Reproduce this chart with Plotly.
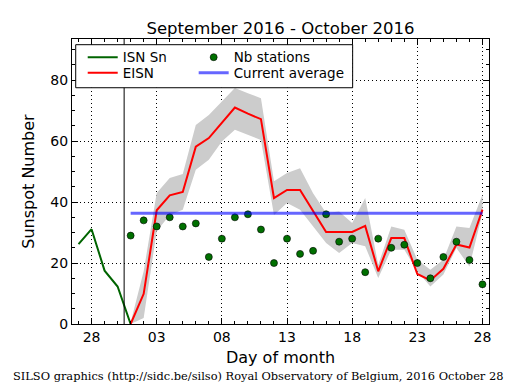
import plotly.graph_objects as go

# ---------------- data ----------------
isn_dates = ["2016-09-27", "2016-09-28", "2016-09-29", "2016-09-30", "2016-10-01"]
isn_values = [26.2, 31.1, 17.5, 12.3, 0.0]

oct_dates = [
    "2016-10-01", "2016-10-02", "2016-10-03", "2016-10-04", "2016-10-05", "2016-10-06", "2016-10-07",
    "2016-10-08", "2016-10-09", "2016-10-10", "2016-10-11", "2016-10-12", "2016-10-13", "2016-10-14",
    "2016-10-15", "2016-10-16", "2016-10-17", "2016-10-18", "2016-10-19", "2016-10-20", "2016-10-21",
    "2016-10-22", "2016-10-23", "2016-10-24", "2016-10-25", "2016-10-26", "2016-10-27", "2016-10-28",
]
eisn_values = [0.0, 9.9, 37.3, 42.2, 43.3, 58.2, 61.0, 65.9, 71.0, 69.0, 67.2, 41.3, 44.0, 44.0,
               37.1, 30.2, 30.2, 30.2, 32.2, 17.3, 28.2, 28.2, 16.4, 14.3, 18.1, 26.1, 25.1, 37.5]
eisn_upper = [0.5, 17.3, 43.0, 47.9, 49.2, 65.3, 68.6, 73.0, 77.4, 75.7, 74.1, 46.8, 49.5, 51.1,
              42.9, 36.4, 36.9, 33.1, 41.3, 19.4, 32.0, 30.9, 21.1, 17.8, 21.1, 32.0, 31.5, 42.4]
eisn_lower = [0.0, 2.0, 30.4, 35.8, 37.5, 50.6, 53.9, 59.9, 63.7, 62.1, 60.4, 35.8, 39.7, 37.5,
              32.0, 26.6, 23.3, 26.6, 25.5, 15.1, 24.4, 24.4, 17.3, 12.3, 16.2, 24.9, 18.9, 36.4]
nb_stations = [29, 34, 32, 35, 32, 33, 22, 28, 35, 36, 31, 20, 28, 23,
               24, 36, 27, 28, 17, 28, 25, 26, 20, 15, 22, 27, 21, 13]
current_average = 36.3

month_boundary = "2016-09-30 12:00"
x_range = ["2016-09-26 12:00", "2016-10-28 12:00"]
y_range = [0, 93.5]
x_tick0 = "2016-09-28"
DAY_MS = 86400000

title_text = "September 2016 - October 2016"
x_label = "Day of month"
y_label = "Sunspot Number"
footer_text = "SILSO graphics (http://sidc.be/silso) Royal Observatory of Belgium, 2016 October 28"

FONT = "DejaVu Sans"
LEG_FONT = dict(family=FONT, size=13.5, color="black")

fig = go.Figure()

# error band
fig.add_trace(go.Scatter(x=oct_dates, y=eisn_lower, mode="lines", line=dict(width=0),
                         showlegend=False, hoverinfo="skip"))
fig.add_trace(go.Scatter(x=oct_dates, y=eisn_upper, mode="lines", line=dict(width=0),
                         fill="tonexty", fillcolor="rgb(204,204,204)",
                         showlegend=False, hoverinfo="skip"))

fig.add_trace(go.Scatter(x=isn_dates, y=isn_values, mode="lines", name="ISN Sn",
                         line=dict(color="#006400", width=2), legend="legend"))
fig.add_trace(go.Scatter(x=oct_dates, y=eisn_values, mode="lines", name="EISN",
                         line=dict(color="#ff0000", width=2), legend="legend2"))
fig.add_trace(go.Scatter(x=oct_dates, y=nb_stations, mode="markers", name="Nb stations",
                         marker=dict(color="#007000", size=7, line=dict(color="black", width=0.6)),
                         legend="legend3"))
fig.add_trace(go.Scatter(x=[oct_dates[0], oct_dates[-1]], y=[current_average, current_average],
                         mode="lines", name="Current average",
                         line=dict(color="rgba(0,0,255,0.6)", width=3), legend="legend4"))

fig.add_vline(x=month_boundary, line=dict(color="black", width=1))

# legend frame (matplotlib-style box holding the 2x2 legend)
fig.add_shape(type="rect", xref="paper", yref="paper", x0=0.0089, x1=0.673, y0=0.829, y1=0.980,
              fillcolor="white", line=dict(color="black", width=1), layer="above")

axis_common = dict(
    showline=True, linecolor="black", linewidth=1, mirror="allticks",
    ticks="inside", ticklen=6, tickcolor="black", tickwidth=1,
    showgrid=True, gridcolor="black", gridwidth=1, griddash="1px,3px",
    zeroline=False,
    tickfont=dict(family=FONT, size=14, color="black"),
)

fig.update_xaxes(
    type="date", range=x_range, tick0=x_tick0, dtick=5 * DAY_MS, tickformat="%d",
    minor=dict(ticks="inside", ticklen=3, dtick=DAY_MS, tick0=x_tick0, tickcolor="black", showgrid=False),
    title=dict(text=x_label, font=dict(family=FONT, size=16, color="black"), standoff=8),
    **axis_common,
)
fig.update_yaxes(
    range=y_range, dtick=20, tick0=0,
    minor=dict(ticks="inside", ticklen=3, dtick=5, tickcolor="black", showgrid=False),
    title=dict(text=y_label, font=dict(family=FONT, size=16, color="black"), standoff=11),
    **axis_common,
)

leg_common = dict(orientation="v", xanchor="left", yanchor="middle", bgcolor="rgba(0,0,0,0)",
                  borderwidth=0, font=LEG_FONT)
row1_y, row2_y = 0.9354, 0.8807
col1_x, col2_x = 0.0257, 0.2918

fig.update_layout(
    width=507, height=382,
    margin=dict(l=64, r=26, t=31, b=66),
    paper_bgcolor="white", plot_bgcolor="white",
    font=dict(family=FONT, color="black"),
    title=dict(text=title_text, xref="paper", x=0.5, xanchor="center", y=0.948, yanchor="middle",
               font=dict(family=FONT, size=16.5, color="black")),
    legend=dict(x=col1_x, y=row1_y, **leg_common),
    legend2=dict(x=col1_x, y=row2_y, **leg_common),
    legend3=dict(x=col2_x, y=row1_y, **leg_common),
    legend4=dict(x=col2_x, y=row2_y, **leg_common),
    showlegend=True,
)

fig.add_annotation(text=footer_text, xref="paper", yref="paper", x=0.4466, y=-0.181,
                   xanchor="center", yanchor="middle", showarrow=False,
                   font=dict(family="DejaVu Serif", size=11.4, color="black"))

fig.write_html("out.html")
